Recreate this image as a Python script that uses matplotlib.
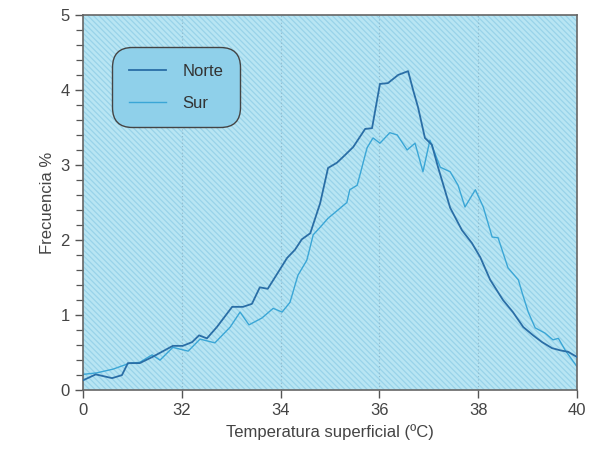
#Distribucion de frecuencias de temperatura superficial
import numpy as np
import matplotlib.pyplot as plt
from matplotlib.patches import Rectangle

plt.rcParams['font.family'] = ['Liberation Sans', 'DejaVu Sans']
plt.rcParams['hatch.linewidth'] = 0.9
plt.rcParams['hatch.color'] = '#99d3e9'

# Datos
t_norte = [30.0, 30.26, 30.59, 30.79, 30.91, 31.15, 31.40, 31.82, 32.02, 32.21,
           32.35, 32.51, 32.71, 33.02, 33.24, 33.42, 33.58, 33.74, 33.95, 34.13,
           34.29, 34.43, 34.60, 34.80, 34.96, 35.14, 35.30, 35.47, 35.71, 35.85,
           36.01, 36.17, 36.38, 36.58, 36.68, 36.78, 36.92, 37.06, 37.19, 37.43,
           37.67, 37.87, 38.04, 38.24, 38.50, 38.70, 38.91, 39.11, 39.29, 39.49,
           39.66, 39.82, 40.0]
f_norte = [0.13, 0.21, 0.16, 0.20, 0.36, 0.36, 0.44, 0.59, 0.59, 0.64,
           0.73, 0.69, 0.84, 1.11, 1.11, 1.15, 1.37, 1.35, 1.57, 1.76,
           1.87, 2.01, 2.09, 2.49, 2.96, 3.03, 3.13, 3.24, 3.48, 3.49,
           4.08, 4.09, 4.20, 4.25, 4.00, 3.77, 3.36, 3.27, 2.96, 2.43,
           2.13, 1.96, 1.77, 1.47, 1.20, 1.04, 0.84, 0.73, 0.64, 0.56,
           0.53, 0.51, 0.44]
t_sur = [30.0, 30.28, 30.61, 30.95, 31.15, 31.40, 31.56, 31.82, 32.13, 32.37,
         32.67, 32.98, 33.18, 33.36, 33.62, 33.85, 34.03, 34.19, 34.35, 34.53,
         34.66, 34.80, 34.96, 35.16, 35.34, 35.40, 35.55, 35.75, 35.87, 36.01,
         36.21, 36.36, 36.56, 36.72, 36.88, 37.02, 37.23, 37.43, 37.59, 37.73,
         37.94, 38.10, 38.28, 38.40, 38.60, 38.81, 38.89, 39.01, 39.15, 39.35,
         39.51, 39.62, 39.76, 40.0]
f_sur = [0.21, 0.23, 0.28, 0.36, 0.37, 0.47, 0.40, 0.57, 0.52, 0.68,
         0.63, 0.84, 1.04, 0.87, 0.96, 1.09, 1.04, 1.17, 1.53, 1.73,
         2.07, 2.17, 2.29, 2.40, 2.50, 2.67, 2.73, 3.23, 3.36, 3.29,
         3.43, 3.40, 3.20, 3.29, 2.91, 3.33, 2.97, 2.91, 2.73, 2.44,
         2.67, 2.44, 2.04, 2.03, 1.63, 1.47, 1.29, 1.04, 0.83, 0.76,
         0.67, 0.69, 0.53, 0.31]
xticks = [30, 32, 34, 36, 38, 40]
xlabels = ['0', '32', '34', '36', '38', '40']

fig = plt.figure(figsize=(6.05, 4.5), dpi=100)
ax = fig.add_axes([0.137, 0.133, 0.817, 0.834])
ax.set_facecolor('#b8e5f3')
ax.add_patch(Rectangle((0, 0), 1, 1, transform=ax.transAxes, facecolor='none',
                       hatch='\\\\\\\\\\\\', edgecolor='#99d3e9', linewidth=0, zorder=0))

for x in [32, 34, 36, 38]:
    ax.axvline(x, color='#8fb9cc', linestyle=(0, (1, 2)), linewidth=0.8, zorder=1)

ax.plot(t_norte, f_norte, color='#2a6ea6', linewidth=1.3, label='Norte', zorder=3)
ax.plot(t_sur, f_sur, color='#3aa6d6', linewidth=1.0, label='Sur', zorder=2)

ax.set_xlim(30, 40)
ax.set_ylim(0, 5)
ax.set_xticks(xticks)
ax.set_xticklabels(xlabels)
ax.set_yticks(range(6))
ax.set_yticks(np.arange(0, 5.01, 0.2), minor=True)
ax.tick_params(axis='both', direction='out', length=6, width=1, color='#555555',
               labelcolor='#444444', labelsize=12)
ax.tick_params(axis='y', which='minor', direction='out', length=5, width=0.9, color='#555555')
for s in ax.spines.values():
    s.set_color('#666666')
    s.set_linewidth(1.2)

ax.set_xlabel('Temperatura superficial (ºC)', fontsize=12, color='#444444')
ax.set_ylabel('Frecuencia %', fontsize=12, color='#444444')

leg = ax.legend(loc='upper left', bbox_to_anchor=(0.053, 0.922), fontsize=12,
                fancybox=True, framealpha=1, handlelength=2.2, labelspacing=1.0,
                borderpad=0.7, handletextpad=1.0, labelcolor='#333333')
fr = leg.get_frame()
fr.set_facecolor('#8fd0ea')
fr.set_edgecolor('#444444')
fr.set_linewidth(1.0)
fr.set_boxstyle('round,pad=0.3,rounding_size=1.2')

plt.savefig('out.png', dpi=100)
